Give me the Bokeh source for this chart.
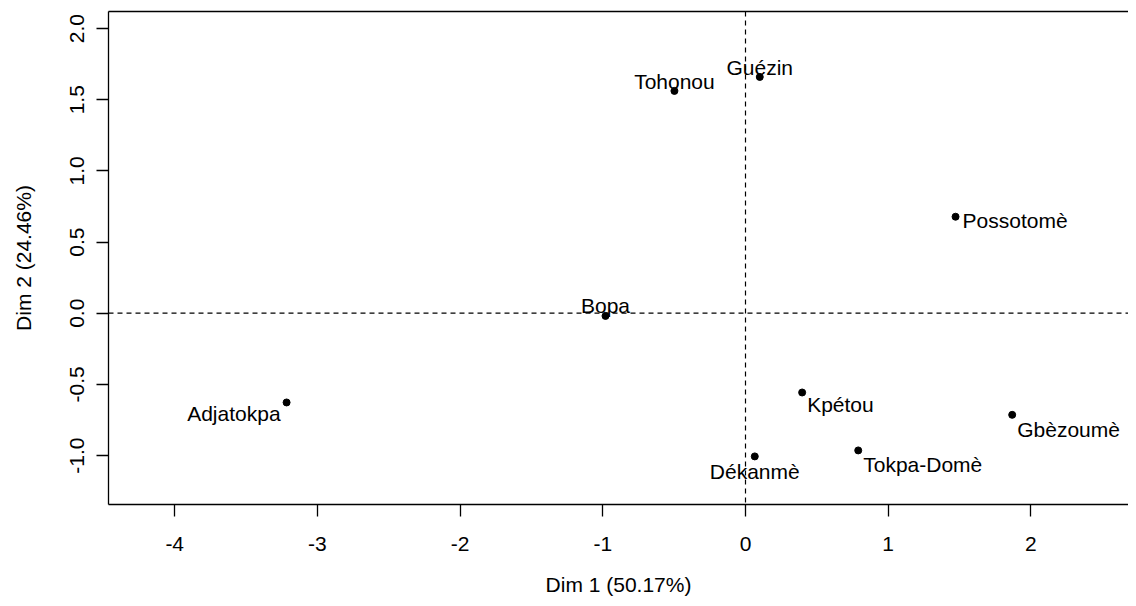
from bokeh.plotting import figure
from bokeh.models import Range1d, FixedTicker, PrintfTickFormatter, Span, LinearAxis, ColumnDataSource
from bokeh.core.properties import value
from bokeh.embed import file_html
from bokeh.resources import INLINE

# Data
names = ["Tohonou", "Guézin", "Possotomè", "Bopa", "Adjatokpa", "Kpétou", "Gbèzoumè", "Tokpa-Domè", "Dékanmè"]
dim1 = [-0.498, 0.100, 1.472, -0.981, -3.216, 0.397, 1.869, 0.790, 0.065]
dim2 = [1.562, 1.660, 0.678, -0.019, -0.627, -0.557, -0.714, -0.964, -1.006]
x_ticks = [-4, -3, -2, -1, 0, 1, 2]
y_ticks = [-1.0, -0.5, 0.0, 0.5, 1.0, 1.5, 2.0]
x_title = "Dim 1 (50.17%)"
y_title = "Dim 2 (24.46%)"

# Label placement (style)
lab_align = ["center", "center", "left", "center", "right", "left", "left", "left", "center"]
lab_dx = [0, 0, 7, 0, -6, 5, 5, 5, 0]
lab_dy = [-9, -9, 4, -10, 11, 12, 15, 14, 15]

FONT = "Liberation Sans"
FS = "21px"

p = figure(width=1128, height=598, output_backend="svg", toolbar_location=None,
           x_range=Range1d(-4.464, 2.684), y_range=Range1d(-1.344, 2.120),
           min_border_left=108, min_border_right=0, min_border_top=11, min_border_bottom=93)
p.outline_line_color = None
p.xgrid.visible = False
p.ygrid.visible = False
p.background_fill_color = "white"
p.border_fill_color = "white"

for ax in (p.xaxis[0], p.yaxis[0]):
    ax.axis_line_color = "black"
    ax.axis_line_width = 1.3
    ax.major_tick_line_color = "black"
    ax.major_tick_line_width = 1.3
    ax.major_tick_in = 0
    ax.major_tick_out = 12
    ax.minor_tick_line_color = None
    ax.major_label_text_font = FONT
    ax.major_label_text_font_size = FS
    ax.major_label_text_color = "black"
    ax.axis_label_text_font = FONT
    ax.axis_label_text_font_size = FS
    ax.axis_label_text_font_style = "normal"
    ax.axis_label_text_color = "black"

p.xaxis[0].ticker = FixedTicker(ticks=x_ticks)
p.xaxis[0].formatter = PrintfTickFormatter(format="%d")
p.xaxis[0].axis_label = x_title
p.xaxis[0].major_label_standoff = 20
p.xaxis[0].axis_label_standoff = 19

p.yaxis[0].ticker = FixedTicker(ticks=y_ticks)
p.yaxis[0].formatter = PrintfTickFormatter(format="%.1f")
p.yaxis[0].axis_label = y_title
p.yaxis[0].major_label_orientation = "vertical"
p.yaxis[0].major_label_standoff = 12
p.yaxis[0].axis_label_standoff = 33

top = LinearAxis(ticker=FixedTicker(ticks=[]), major_tick_out=0, major_tick_in=0,
                 minor_tick_line_color=None, major_label_text_font_size="0px",
                 major_label_standoff=0, axis_line_color="black", axis_line_width=1.3)
p.add_layout(top, "above")

p.add_layout(Span(location=0, dimension="width", line_color="black", line_dash="5 4", line_width=1.2))
p.add_layout(Span(location=0, dimension="height", line_color="black", line_dash="5 4", line_width=1.2))

src = ColumnDataSource(dict(x=dim1, y=dim2, name=names, align=lab_align, dx=lab_dx, dy=lab_dy))
p.scatter("x", "y", source=src, size=7, color="black")
p.text("x", "y", text="name", source=src, text_align="align", text_baseline="middle",
       x_offset="dx", y_offset="dy", text_font=value(FONT), text_font_size=FS, text_color="black")

open("out.html", "w").write(file_html(p, INLINE))
